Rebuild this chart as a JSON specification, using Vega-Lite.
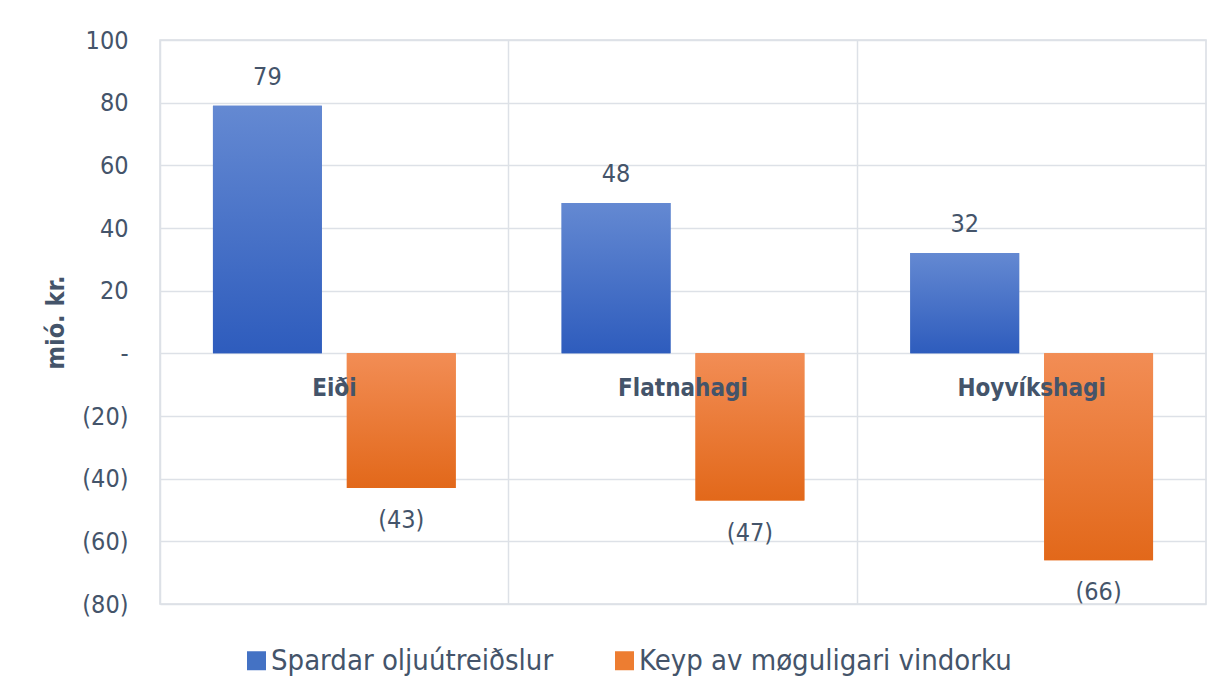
{
  "$schema": "https://vega.github.io/schema/vega-lite/v6.json",
  "width": 1046,
  "height": 564,
  "autosize": "none",
  "padding": {"left": 160, "top": 40, "right": 22, "bottom": 93},
  "background": "white",
  "config": {
    "font": "DejaVu Sans Condensed, Lato",
    "view": {"stroke": "#d9dde4", "strokeWidth": 1.5},
    "axis": {"labelColor": "#44546a", "titleColor": "#44546a", "gridColor": "#dde1e7", "gridWidth": 1.5}
  },
  "data": {
    "values": [
      {"site": "Eiði", "series": "Spardar oljuútreiðslur", "value": 79},
      {"site": "Eiði", "series": "Keyp av møguligari vindorku", "value": -43},
      {"site": "Flatnahagi", "series": "Spardar oljuútreiðslur", "value": 48},
      {"site": "Flatnahagi", "series": "Keyp av møguligari vindorku", "value": -47},
      {"site": "Hoyvíkshagi", "series": "Spardar oljuútreiðslur", "value": 32},
      {"site": "Hoyvíkshagi", "series": "Keyp av møguligari vindorku", "value": -66}
    ]
  },
  "layer": [
    {
      "mark": {"type": "bar"},
      "encoding": {
        "x": {
          "field": "site", "type": "nominal", "sort": ["Eiði", "Flatnahagi", "Hoyvíkshagi"],
          "scale": {"paddingInner": 0, "paddingOuter": 0},
          "axis": {"title": null, "labels": false, "ticks": false, "domain": false, "grid": true, "bandPosition": 0}
        },
        "xOffset": {
          "field": "series", "type": "nominal", "sort": ["Spardar oljuútreiðslur", "Keyp av møguligari vindorku"],
          "scale": {"paddingInner": 0.1866, "paddingOuter": 0.3955}
        },
        "y": {
          "field": "value", "type": "quantitative",
          "scale": {"domain": [-80, 100], "nice": false},
          "axis": {
            "title": "mió. kr.", "titleFontSize": 25, "titleFontWeight": "bold", "titlePadding": 13,
            "values": [-80, -60, -40, -20, 0, 20, 40, 60, 80, 100],
            "labelExpr": "datum.value === 0 ? '-' : format(datum.value, '(d')",
            "labelFontSize": 25, "labelPadding": 32, "ticks": false, "domain": false, "grid": true
          }
        },
        "color": {
          "field": "series", "type": "nominal",
          "scale": {"domain": ["Spardar oljuútreiðslur", "Keyp av møguligari vindorku"], "range": ["#4472c4", "#ed7d31"]},
          "legend": {
            "title": null, "orient": "none", "direction": "horizontal", "legendX": 82, "legendY": 606,
            "labelFontSize": 29, "labelColor": "#44546a", "symbolType": "square", "symbolSize": 361,
            "symbolStrokeWidth": 0, "columnPadding": 56, "labelOffset": 0, "labelLimit": 500
          }
        }
      }
    },
    {
      "mark": {"type": "bar"},
      "encoding": {
        "x": {"field": "site", "type": "nominal", "sort": ["Eiði", "Flatnahagi", "Hoyvíkshagi"]},
        "xOffset": {"field": "series", "type": "nominal", "sort": ["Spardar oljuútreiðslur", "Keyp av møguligari vindorku"]},
        "y": {"field": "value", "type": "quantitative"},
        "color": {
          "condition": {
            "test": "datum.series === 'Spardar oljuútreiðslur'",
            "value": {"gradient": "linear", "x1": 0, "y1": 0, "x2": 0, "y2": 1,
              "stops": [{"offset": 0, "color": "#6489d2"}, {"offset": 1, "color": "#2e5cbd"}]}
          },
          "value": {"gradient": "linear", "x1": 0, "y1": 0, "x2": 0, "y2": 1,
            "stops": [{"offset": 0, "color": "#f28d55"}, {"offset": 1, "color": "#e2681a"}]}
        }
      }
    },
    {
      "transform": [{"filter": "datum.value >= 0"}],
      "mark": {"type": "text", "baseline": "bottom", "dy": -16, "fontSize": 25, "color": "#44546a"},
      "encoding": {
        "x": {"field": "site", "type": "nominal", "sort": ["Eiði", "Flatnahagi", "Hoyvíkshagi"]},
        "xOffset": {"field": "series", "type": "nominal", "sort": ["Spardar oljuútreiðslur", "Keyp av møguligari vindorku"]},
        "y": {"field": "value", "type": "quantitative"},
        "text": {"field": "value", "type": "quantitative", "format": "(d"}
      }
    },
    {
      "transform": [{"filter": "datum.value < 0"}],
      "mark": {"type": "text", "baseline": "top", "dy": 20, "fontSize": 25, "color": "#44546a"},
      "encoding": {
        "x": {"field": "site", "type": "nominal", "sort": ["Eiði", "Flatnahagi", "Hoyvíkshagi"]},
        "xOffset": {"field": "series", "type": "nominal", "sort": ["Spardar oljuútreiðslur", "Keyp av møguligari vindorku"]},
        "y": {"field": "value", "type": "quantitative"},
        "text": {"field": "value", "type": "quantitative", "format": "(d"}
      }
    },
    {
      "transform": [{"filter": "datum.value < 0"}],
      "mark": {"type": "text", "baseline": "middle", "fontSize": 24, "fontWeight": "bold", "color": "#44546a"},
      "encoding": {
        "x": {"field": "site", "type": "nominal", "sort": ["Eiði", "Flatnahagi", "Hoyvíkshagi"], "bandPosition": 0.5},
        "y": {"datum": -11.5},
        "text": {"field": "site", "type": "nominal"}
      }
    }
  ]
}
